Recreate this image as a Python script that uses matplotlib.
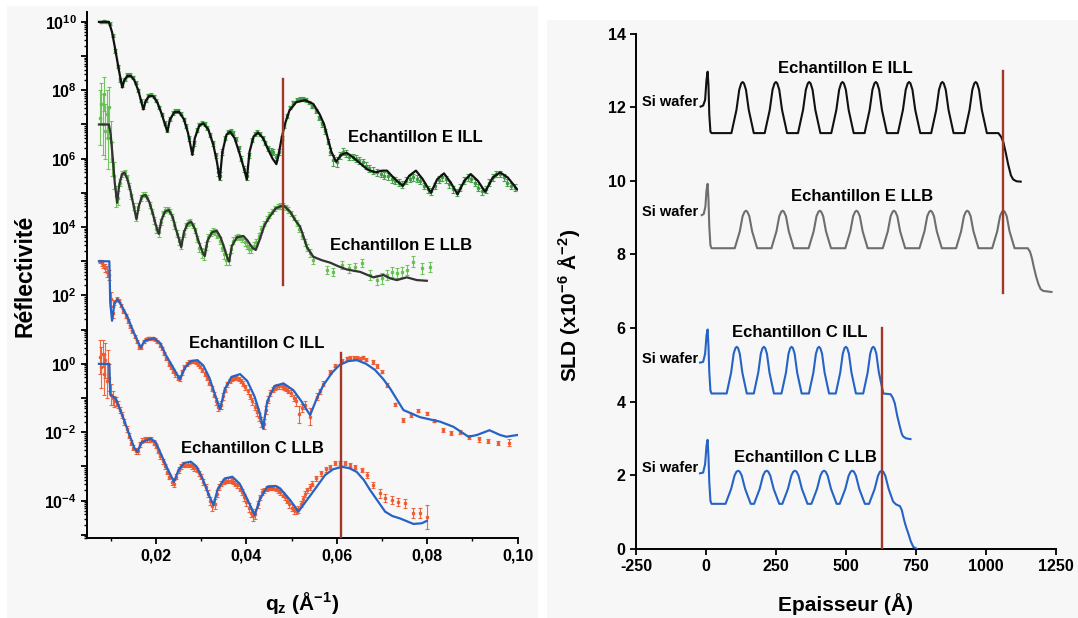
import numpy as np
import matplotlib
matplotlib.use('Agg')
import matplotlib.pyplot as plt
from matplotlib.patches import Rectangle
from matplotlib.ticker import FixedLocator, FuncFormatter, LogLocator, MultipleLocator, NullFormatter

plt.rcParams['font.family'] = ['Liberation Sans', 'DejaVu Sans']
plt.rcParams['font.weight'] = 'bold'
plt.rcParams['mathtext.fontset'] = 'custom'
plt.rcParams['mathtext.rm'] = 'Liberation Sans:bold'
plt.rcParams['mathtext.bf'] = 'Liberation Sans:bold'
plt.rcParams['mathtext.it'] = 'Liberation Sans:bold'

# ---------------- Reflectivity (left panel): (q [1/A], log10 R) ----------------
e_ill_fit = [(0.0074, 10.0), (0.0096, 10.0), (0.0103, 9.7), (0.0110, 9.2), (0.0118, 8.6), (0.0123, 8.25), (0.01257, 8.08),
             (0.0130, 8.3), (0.0137, 8.42), (0.01443, 8.42), (0.0152, 8.3), (0.0161, 8.0), (0.0168, 7.65), (0.01722, 7.44),
             (0.0177, 7.68), (0.0185, 7.83), (0.01937, 7.83), (0.0203, 7.65), (0.0213, 7.3), (0.0220, 7.0), (0.02253, 6.79),
             (0.0231, 7.15), (0.0241, 7.36), (0.02512, 7.37), (0.0262, 7.15), (0.0271, 6.75), (0.0277, 6.35), (0.02806, 6.11),
             (0.0286, 6.6), (0.0296, 6.97), (0.03049, 7.03), (0.0316, 6.85), (0.0327, 6.4), (0.0335, 5.9), (0.03412, 5.39),
             (0.0347, 6.2), (0.0356, 6.7), (0.0364, 6.79), (0.0374, 6.6), (0.0385, 6.15), (0.0395, 5.7), (0.04009, 5.39),
             (0.0407, 6.2), (0.0416, 6.65), (0.04259, 6.76), (0.0437, 6.6), (0.0447, 6.3), (0.0458, 6.0), (0.04664, 5.84),
             (0.0471, 6.1), (0.0478, 6.6), (0.0485, 7.0), (0.0495, 7.4), (0.0510, 7.65), (0.0530, 7.71), (0.0548, 7.6),
             (0.0562, 7.3), (0.0572, 7.0), (0.0580, 6.6), (0.0588, 6.2), (0.05985, 5.91), (0.0610, 6.12), (0.0622, 6.17),
             (0.0635, 6.05), (0.0652, 5.86), (0.0668, 5.68), (0.0685, 5.6), (0.0700, 5.65), (0.0711, 5.65), (0.0725, 5.45),
             (0.0746, 5.2), (0.0760, 5.5), (0.0775, 5.65), (0.0790, 5.4), (0.0808, 5.0), (0.0822, 5.4), (0.0837, 5.57),
             (0.0852, 5.3), (0.0867, 4.96), (0.0882, 5.35), (0.0896, 5.55), (0.0912, 5.35), (0.0928, 5.03), (0.0945, 5.45),
             (0.0961, 5.6), (0.0978, 5.45), (0.0999, 5.1)]

e_llb_fit = [(0.0074, 7.0), (0.0096, 7.0), (0.0100, 6.7), (0.0104, 6.1), (0.0109, 5.3), (0.01141, 4.71),
             (0.0119, 5.25), (0.0125, 5.55), (0.01305, 5.59), (0.0137, 5.4), (0.0144, 5.05), (0.0151, 4.6), (0.0157, 4.23),
             (0.0162, 4.6), (0.0169, 4.9), (0.0177, 4.94), (0.0185, 4.75), (0.0193, 4.4), (0.0200, 4.05), (0.02064, 3.80),
             (0.0212, 4.2), (0.0220, 4.45), (0.02285, 4.50), (0.0237, 4.3), (0.0244, 3.95), (0.0251, 3.65), (0.02559, 3.41),
             (0.0262, 3.85), (0.0270, 4.1), (0.02779, 4.16), (0.0286, 3.95), (0.0294, 3.6), (0.0302, 3.3), (0.0308, 3.15),
             (0.0314, 3.6), (0.0324, 3.85), (0.03346, 3.89), (0.0343, 3.7), (0.0351, 3.4), (0.0358, 3.1), (0.03618, 2.99),
             (0.0368, 3.45), (0.0379, 3.7), (0.03934, 3.74), (0.0403, 3.6), (0.0413, 3.4), (0.04208, 3.33),
             (0.0430, 3.65), (0.0440, 4.05), (0.04503, 4.28), (0.0465, 4.55), (0.04819, 4.64), (0.04967, 4.45),
             (0.0508, 4.2), (0.05188, 4.01), (0.0527, 3.7), (0.05336, 3.42), (0.05482, 3.13), (0.0567, 3.03),
             (0.05852, 2.96), (0.0604, 2.85), (0.06221, 2.76), (0.06515, 2.69), (0.0668, 2.6), (0.0681, 2.53),
             (0.07031, 2.6), (0.0718, 2.5), (0.07327, 2.45), (0.07548, 2.53), (0.0777, 2.45), (0.0799, 2.43)]

c_ill_fit = [(0.0074, 3.0), (0.0097, 3.0), (0.0099, 1.8), (0.0103, 1.26), (0.0108, 1.75), (0.01148, 1.89), (0.0122, 1.75),
             (0.01369, 1.38), (0.0150, 0.95), (0.0160, 0.65), (0.01666, 0.48), (0.0175, 0.68), (0.0196, 0.75), (0.0210, 0.6),
             (0.02218, 0.26), (0.0240, -0.15), (0.02527, -0.45), (0.0265, -0.1), (0.0278, 0.08), (0.02917, 0.11),
             (0.0305, -0.05), (0.0318, -0.4), (0.0332, -0.95), (0.03419, -1.33), (0.0352, -0.75), (0.0367, -0.38),
             (0.03861, -0.30), (0.0402, -0.5), (0.0418, -0.95), (0.0430, -1.45), (0.0437, -1.89), (0.0446, -1.1),
             (0.0462, -0.65), (0.04819, -0.57), (0.0504, -0.77), (0.0522, -1.1), (0.0541, -1.5), (0.0556, -1.0),
             (0.05704, -0.62), (0.0590, -0.25), (0.06058, -0.035), (0.0625, 0.08), (0.06442, 0.11), (0.0665, 0.0),
             (0.06847, -0.18), (0.0703, -0.45), (0.07179, -0.72), (0.07473, -1.35), (0.07843, -1.56), (0.08285, -1.69),
             (0.08579, -1.84), (0.08911, -2.13), (0.09097, -2.08), (0.09376, -1.94), (0.09612, -2.08), (0.0975, -2.13),
             (0.0999, -2.08)]

c_llb_fit = [(0.0074, 0.0), (0.0097, 0.0), (0.0099, -0.9), (0.0111, -1.01), (0.0118, -1.25), (0.01295, -1.64),
             (0.0142, -2.1), (0.0152, -2.45), (0.0159, -2.57), (0.0168, -2.3), (0.01885, -2.18), (0.0200, -2.3),
             (0.02106, -2.62), (0.0225, -3.05), (0.02401, -3.45), (0.0250, -3.1), (0.0262, -2.9), (0.02771, -2.86),
             (0.0290, -3.0), (0.0303, -3.35), (0.0316, -3.8), (0.0327, -4.13), (0.0337, -3.65), (0.0352, -3.35),
             (0.0369, -3.30), (0.0385, -3.5), (0.0400, -3.9), (0.04186, -4.42), (0.0430, -3.95), (0.0446, -3.6),
             (0.04651, -3.57), (0.04746, -3.64), (0.04967, -3.98), (0.05151, -4.32), (0.0530, -4.05), (0.05447, -3.79),
             (0.05741, -3.25), (0.0592, -3.08), (0.06111, -3.01), (0.0628, -3.05), (0.06442, -3.16), (0.0660, -3.4),
             (0.06737, -3.69), (0.0690, -4.0), (0.07068, -4.32), (0.0723, -4.45), (0.0740, -4.52), (0.07694, -4.68),
             (0.0788, -4.66), (0.0799, -4.59)]

# measured points: (q, log10 R, error bar half-length in decades)
e_ill_data = [(0.0078, 10.0, 0.04), (0.0085, 10.02, 0.04), (0.0092, 10.0, 0.04), (0.0098, 9.95, 0.04), (0.0104, 9.6, 0.05),
              (0.0110, 9.15, 0.05), (0.0116, 8.7, 0.05), (0.0121, 8.3, 0.05), (0.0126, 8.15, 0.06), (0.0131, 8.32, 0.05),
              (0.0137, 8.45, 0.05), (0.0143, 8.45, 0.05), (0.0149, 8.38, 0.05), (0.0155, 8.22, 0.05), (0.0161, 8.0, 0.05),
              (0.0167, 7.7, 0.05), (0.0172, 7.5, 0.06), (0.0177, 7.7, 0.05), (0.0183, 7.85, 0.05), (0.0189, 7.87, 0.05),
              (0.0195, 7.82, 0.05), (0.0201, 7.7, 0.05), (0.0207, 7.5, 0.05), (0.0213, 7.3, 0.05), (0.0219, 7.05, 0.06),
              (0.0225, 6.85, 0.07), (0.0231, 7.15, 0.06), (0.0237, 7.33, 0.05), (0.0243, 7.4, 0.05), (0.0249, 7.4, 0.05),
              (0.0255, 7.32, 0.05), (0.0261, 7.15, 0.05), (0.0267, 6.95, 0.06), (0.0273, 6.6, 0.07), (0.0279, 6.25, 0.1),
              (0.0284, 6.45, 0.08), (0.0290, 6.85, 0.06), (0.0296, 7.0, 0.05), (0.0302, 7.05, 0.05), (0.0308, 7.02, 0.05),
              (0.0314, 6.9, 0.05), (0.0320, 6.7, 0.06), (0.0326, 6.45, 0.07), (0.0332, 6.1, 0.08), (0.0337, 5.6, 0.12),
              (0.0342, 5.5, 0.12), (0.0347, 6.2, 0.08), (0.0353, 6.6, 0.06), (0.0359, 6.78, 0.05), (0.0365, 6.82, 0.05),
              (0.0371, 6.75, 0.05), (0.0377, 6.58, 0.06), (0.0383, 6.3, 0.07), (0.0389, 6.0, 0.08), (0.0395, 5.7, 0.1),
              (0.0401, 5.5, 0.12), (0.0406, 6.1, 0.08), (0.0412, 6.55, 0.06), (0.0418, 6.72, 0.05), (0.0424, 6.78, 0.05),
              (0.0430, 6.72, 0.05), (0.0436, 6.6, 0.06), (0.0442, 6.45, 0.06), (0.0448, 6.3, 0.07), (0.0454, 6.22, 0.08),
              (0.0460, 6.2, 0.08), (0.0466, 6.05, 0.1), (0.0472, 6.2, 0.08), (0.0478, 6.6, 0.06), (0.0484, 6.95, 0.05),
              (0.0490, 7.25, 0.05), (0.0497, 7.5, 0.05), (0.0504, 7.65, 0.05), (0.0511, 7.73, 0.05), (0.0518, 7.75, 0.05),
              (0.0525, 7.75, 0.05), (0.0532, 7.72, 0.05), (0.0539, 7.65, 0.05), (0.0546, 7.52, 0.05), (0.0553, 7.4, 0.05),
              (0.0560, 7.2, 0.06), (0.0567, 7.0, 0.06), (0.0574, 6.8, 0.07), (0.0580, 6.5, 0.08), (0.0586, 6.2, 0.1),
              (0.0592, 5.95, 0.15), (0.0600, 5.9, 0.15), (0.0607, 6.1, 0.1), (0.0614, 6.2, 0.1), (0.0621, 6.15, 0.1),
              (0.0628, 6.05, 0.1), (0.0635, 6.05, 0.1), (0.0642, 6.0, 0.1), (0.0650, 5.95, 0.1), (0.0657, 5.9, 0.1),
              (0.0664, 5.8, 0.1), (0.0672, 5.72, 0.1), (0.0680, 5.65, 0.1), (0.0688, 5.6, 0.1), (0.0697, 5.55, 0.1),
              (0.0705, 5.5, 0.1), (0.0713, 5.48, 0.1), (0.0721, 5.4, 0.1), (0.0729, 5.35, 0.1), (0.0737, 5.3, 0.1),
              (0.0745, 5.25, 0.1), (0.0753, 5.35, 0.1), (0.0761, 5.42, 0.1), (0.0769, 5.45, 0.1), (0.0777, 5.42, 0.1),
              (0.0785, 5.35, 0.1), (0.0793, 5.2, 0.1), (0.0801, 5.1, 0.1), (0.0809, 5.05, 0.1), (0.0817, 5.2, 0.1),
              (0.0825, 5.38, 0.1), (0.0833, 5.45, 0.1), (0.0841, 5.4, 0.1), (0.0849, 5.25, 0.1), (0.0857, 5.1, 0.1),
              (0.0865, 5.0, 0.1), (0.0873, 5.15, 0.1), (0.0881, 5.35, 0.1), (0.0889, 5.45, 0.1), (0.0897, 5.42, 0.1),
              (0.0905, 5.3, 0.1), (0.0913, 5.15, 0.1), (0.0921, 5.05, 0.1), (0.0929, 5.1, 0.1), (0.0937, 5.3, 0.1),
              (0.0945, 5.45, 0.1), (0.0953, 5.55, 0.1), (0.0961, 5.55, 0.1), (0.0969, 5.45, 0.1), (0.0977, 5.3, 0.1),
              (0.0985, 5.2, 0.1), (0.0993, 5.15, 0.1)]

e_llb_data = [(0.0076, 7.2, 0.8), (0.0079, 7.6, 0.6), (0.0082, 7.0, 0.9), (0.0085, 7.9, 0.5), (0.0088, 6.8, 0.8),
              (0.0091, 7.3, 0.7), (0.0094, 6.6, 0.9), (0.0097, 7.5, 0.6), (0.0100, 6.5, 0.6), (0.0103, 6.0, 0.5),
              (0.0107, 5.5, 0.4), (0.0111, 4.9, 0.3), (0.0116, 4.85, 0.2), (0.0121, 5.3, 0.1), (0.0126, 5.55, 0.08),
              (0.0131, 5.6, 0.08), (0.0136, 5.45, 0.08), (0.0141, 5.2, 0.08), (0.0146, 4.9, 0.08), (0.0151, 4.6, 0.1),
              (0.0156, 4.3, 0.12), (0.0161, 4.6, 0.1), (0.0166, 4.85, 0.08), (0.0171, 4.95, 0.08), (0.0176, 4.95, 0.08),
              (0.0181, 4.85, 0.08), (0.0186, 4.65, 0.08), (0.0191, 4.45, 0.08), (0.0196, 4.2, 0.1), (0.0201, 3.95, 0.12),
              (0.0206, 3.85, 0.15), (0.0211, 4.15, 0.1), (0.0216, 4.4, 0.08), (0.0221, 4.5, 0.08), (0.0226, 4.52, 0.08),
              (0.0231, 4.45, 0.08), (0.0236, 4.3, 0.08), (0.0241, 4.05, 0.1), (0.0246, 3.8, 0.1), (0.0251, 3.6, 0.12),
              (0.0256, 3.5, 0.15), (0.0261, 3.8, 0.1), (0.0266, 4.05, 0.08), (0.0271, 4.12, 0.08), (0.0276, 4.15, 0.08),
              (0.0281, 4.05, 0.08), (0.0286, 3.9, 0.08), (0.0291, 3.65, 0.1), (0.0296, 3.4, 0.12), (0.0301, 3.25, 0.15),
              (0.0306, 3.2, 0.15), (0.0311, 3.45, 0.12), (0.0316, 3.7, 0.1), (0.0321, 3.82, 0.08), (0.0326, 3.88, 0.08),
              (0.0331, 3.85, 0.08), (0.0336, 3.75, 0.08), (0.0341, 3.6, 0.1), (0.0346, 3.4, 0.1), (0.0351, 3.2, 0.12),
              (0.0356, 3.05, 0.15), (0.0361, 3.05, 0.15), (0.0366, 3.35, 0.12), (0.0371, 3.6, 0.1), (0.0376, 3.7, 0.08),
              (0.0381, 3.72, 0.08), (0.0386, 3.7, 0.08), (0.0391, 3.65, 0.08), (0.0396, 3.55, 0.1), (0.0401, 3.45, 0.1),
              (0.0406, 3.35, 0.12), (0.0411, 3.35, 0.12), (0.0416, 3.45, 0.1), (0.0421, 3.55, 0.1), (0.0427, 3.75, 0.08),
              (0.0433, 3.95, 0.08), (0.0439, 4.1, 0.08), (0.0445, 4.25, 0.08), (0.0451, 4.35, 0.08), (0.0457, 4.45, 0.08),
              (0.0463, 4.55, 0.08), (0.0469, 4.6, 0.08), (0.0475, 4.62, 0.08), (0.0481, 4.62, 0.08), (0.0487, 4.58, 0.08),
              (0.0493, 4.5, 0.08), (0.0499, 4.4, 0.08), (0.0505, 4.28, 0.08), (0.0511, 4.12, 0.08), (0.0517, 3.95, 0.1),
              (0.0523, 3.75, 0.1), (0.0529, 3.55, 0.1), (0.0535, 3.4, 0.1), (0.0541, 3.25, 0.12), (0.0548, 3.04, 0.12),
              (0.0578, 2.74, 0.12), (0.0592, 2.69, 0.12), (0.0611, 2.89, 0.12), (0.0626, 2.79, 0.12), (0.0640, 2.84, 0.12),
              (0.0655, 2.94, 0.12), (0.0674, 2.60, 0.15), (0.0688, 2.45, 0.15), (0.0700, 2.50, 0.15), (0.0711, 2.60, 0.15),
              (0.0722, 2.69, 0.15), (0.0733, 2.65, 0.15), (0.0744, 2.69, 0.15), (0.0755, 2.74, 0.15), (0.0769, 2.99, 0.15),
              (0.0788, 2.79, 0.15), (0.0806, 2.84, 0.15)]

c_ill_data = [(0.0076, 3.0, 0.05), (0.0080, 2.95, 0.08), (0.0084, 2.9, 0.1), (0.0088, 2.8, 0.12), (0.0092, 2.7, 0.15),
              (0.0096, 2.6, 0.15), (0.0100, 1.9, 0.2), (0.0104, 1.5, 0.15), (0.0108, 1.8, 0.08), (0.0113, 1.9, 0.05),
              (0.0118, 1.85, 0.05), (0.0123, 1.7, 0.05), (0.0128, 1.55, 0.05), (0.0133, 1.4, 0.05), (0.0138, 1.25, 0.05),
              (0.0143, 1.1, 0.05), (0.0148, 0.95, 0.05), (0.0153, 0.8, 0.05), (0.0158, 0.65, 0.05), (0.0163, 0.5, 0.06),
              (0.0168, 0.5, 0.06), (0.0173, 0.65, 0.05), (0.0178, 0.72, 0.05), (0.0183, 0.75, 0.05), (0.0188, 0.75, 0.05),
              (0.0193, 0.75, 0.05), (0.0198, 0.72, 0.05), (0.0203, 0.65, 0.05), (0.0208, 0.55, 0.05), (0.0213, 0.45, 0.05),
              (0.0218, 0.3, 0.05), (0.0223, 0.15, 0.05), (0.0228, 0.0, 0.06), (0.0233, -0.1, 0.06), (0.0238, -0.2, 0.06),
              (0.0243, -0.3, 0.07), (0.0248, -0.4, 0.08), (0.0253, -0.42, 0.08), (0.0258, -0.25, 0.07), (0.0263, -0.1, 0.06),
              (0.0268, 0.0, 0.05), (0.0273, 0.05, 0.05), (0.0278, 0.07, 0.05), (0.0283, 0.07, 0.05), (0.0288, 0.05, 0.05),
              (0.0293, 0.0, 0.05), (0.0298, -0.08, 0.05), (0.0303, -0.18, 0.06), (0.0308, -0.3, 0.06), (0.0313, -0.42, 0.06),
              (0.0318, -0.55, 0.07), (0.0323, -0.72, 0.08), (0.0328, -0.9, 0.08), (0.0333, -1.1, 0.1), (0.0338, -1.25, 0.12),
              (0.0343, -1.2, 0.12), (0.0348, -0.95, 0.1), (0.0353, -0.75, 0.08), (0.0358, -0.6, 0.07), (0.0363, -0.5, 0.06),
              (0.0368, -0.45, 0.06), (0.0373, -0.42, 0.06), (0.0378, -0.42, 0.06), (0.0383, -0.45, 0.06), (0.0388, -0.5, 0.06),
              (0.0393, -0.58, 0.07), (0.0398, -0.68, 0.07), (0.0403, -0.8, 0.08), (0.0408, -0.95, 0.08), (0.0413, -1.1, 0.1),
              (0.0418, -1.25, 0.1), (0.0423, -1.4, 0.12), (0.0428, -1.55, 0.12), (0.0433, -1.7, 0.15), (0.0438, -1.75, 0.15),
              (0.0443, -1.35, 0.12), (0.0448, -1.05, 0.1), (0.0453, -0.85, 0.08), (0.0458, -0.75, 0.07), (0.0463, -0.7, 0.07),
              (0.0468, -0.65, 0.07), (0.0473, -0.65, 0.07), (0.0478, -0.65, 0.07), (0.0483, -0.68, 0.07), (0.0488, -0.72, 0.07),
              (0.0493, -0.78, 0.07), (0.0498, -0.85, 0.08), (0.0505, -1.0, 0.1), (0.0510, -1.1, 0.12), (0.0516, -1.47, 0.25),
              (0.0523, -1.3, 0.12), (0.0530, -1.2, 0.12), (0.0541, -1.55, 0.25), (0.0556, -0.96, 0.1), (0.0562, -0.8, 0.08),
              (0.0570, -0.58, 0.07), (0.0585, -0.23, 0.06), (0.0595, -0.05, 0.05), (0.0611, 0.09, 0.05), (0.0622, 0.16, 0.05),
              (0.0630, 0.17, 0.05), (0.0637, 0.17, 0.05), (0.0644, 0.17, 0.05), (0.0652, 0.15, 0.05), (0.0659, 0.19, 0.05),
              (0.0665, 0.12, 0.05), (0.0680, 0.06, 0.05), (0.0688, -0.06, 0.05), (0.0700, -0.23, 0.05), (0.0711, -0.62, 0.05),
              (0.0729, -1.18, 0.05), (0.0746, -1.64, 0.05), (0.0764, -1.50, 0.05), (0.0780, -1.37, 0.05), (0.0799, -1.45, 0.05),
              (0.0815, -1.66, 0.05), (0.0834, -1.94, 0.06), (0.0852, -2.01, 0.06), (0.0873, -1.99, 0.06), (0.0893, -2.15, 0.06),
              (0.0915, -2.21, 0.06), (0.0935, -2.25, 0.06), (0.0957, -2.31, 0.06), (0.0980, -2.30, 0.1)]

c_llb_data = [(0.0076, 0.2, 0.5), (0.0079, -0.1, 0.6), (0.0082, 0.3, 0.4), (0.0085, -0.3, 0.6), (0.0088, 0.1, 0.5),
              (0.0091, -0.5, 0.5), (0.0094, 0.0, 0.4), (0.0097, -0.4, 0.4), (0.0100, -0.9, 0.3), (0.0104, -1.0, 0.2),
              (0.0108, -1.1, 0.15), (0.0112, -1.1, 0.12), (0.0116, -1.2, 0.1), (0.0120, -1.35, 0.1), (0.0125, -1.5, 0.08),
              (0.0130, -1.7, 0.08), (0.0135, -1.9, 0.08), (0.0140, -2.1, 0.08), (0.0145, -2.3, 0.08), (0.0150, -2.45, 0.08),
              (0.0155, -2.55, 0.08), (0.0160, -2.55, 0.08), (0.0165, -2.35, 0.08), (0.0170, -2.25, 0.07), (0.0175, -2.2, 0.07),
              (0.0180, -2.2, 0.07), (0.0185, -2.2, 0.07), (0.0190, -2.22, 0.07), (0.0195, -2.3, 0.07), (0.0200, -2.4, 0.07),
              (0.0205, -2.55, 0.07), (0.0210, -2.7, 0.07), (0.0215, -2.85, 0.08), (0.0220, -3.0, 0.08), (0.0225, -3.15, 0.08),
              (0.0230, -3.3, 0.08), (0.0235, -3.45, 0.1), (0.0240, -3.5, 0.1), (0.0245, -3.3, 0.08), (0.0250, -3.1, 0.08),
              (0.0255, -3.0, 0.07), (0.0260, -2.95, 0.07), (0.0265, -2.95, 0.07), (0.0270, -2.95, 0.07), (0.0275, -2.95, 0.07),
              (0.0280, -3.0, 0.07), (0.0285, -3.05, 0.07), (0.0290, -3.1, 0.07), (0.0295, -3.2, 0.07), (0.0300, -3.3, 0.08),
              (0.0305, -3.45, 0.08), (0.0310, -3.6, 0.1), (0.0315, -3.8, 0.1), (0.0320, -4.0, 0.12), (0.0325, -4.15, 0.15),
              (0.0330, -4.1, 0.15), (0.0335, -3.8, 0.1), (0.0340, -3.6, 0.08), (0.0345, -3.5, 0.08), (0.0350, -3.45, 0.07),
              (0.0355, -3.42, 0.07), (0.0360, -3.42, 0.07), (0.0365, -3.42, 0.07), (0.0370, -3.45, 0.07), (0.0375, -3.5, 0.07),
              (0.0380, -3.55, 0.08), (0.0385, -3.65, 0.08), (0.0390, -3.75, 0.08), (0.0395, -3.9, 0.1), (0.0400, -4.05, 0.1),
              (0.0405, -4.2, 0.12), (0.0410, -4.35, 0.12), (0.0415, -4.45, 0.15), (0.0420, -4.4, 0.15), (0.0425, -4.1, 0.1),
              (0.0430, -3.9, 0.08), (0.0435, -3.75, 0.08), (0.0440, -3.7, 0.07), (0.0445, -3.65, 0.07), (0.0450, -3.62, 0.07),
              (0.0455, -3.62, 0.07), (0.0460, -3.62, 0.07), (0.0465, -3.65, 0.07), (0.0470, -3.7, 0.07), (0.0475, -3.75, 0.07),
              (0.0480, -3.82, 0.08), (0.0485, -3.9, 0.08), (0.0490, -4.0, 0.08), (0.0495, -4.1, 0.1), (0.0500, -4.2, 0.1),
              (0.0505, -4.28, 0.1), (0.0510, -4.3, 0.1), (0.0515, -4.25, 0.1), (0.0520, -4.1, 0.08), (0.0525, -3.95, 0.08),
              (0.0530, -3.8, 0.08), (0.0535, -3.7, 0.08), (0.0540, -3.6, 0.08), (0.0545, -3.5, 0.07), (0.0555, -3.35, 0.07),
              (0.0565, -3.2, 0.07), (0.0575, -3.08, 0.07), (0.0585, -3.01, 0.06), (0.0596, -2.91, 0.06), (0.0607, -2.89, 0.06),
              (0.0618, -2.91, 0.06), (0.0629, -2.96, 0.06), (0.0640, -3.01, 0.06), (0.0655, -3.11, 0.06), (0.0666, -3.25, 0.08),
              (0.0681, -3.54, 0.1), (0.0696, -3.79, 0.12), (0.0707, -3.93, 0.12), (0.0722, -3.98, 0.12), (0.0736, -4.03, 0.12),
              (0.0751, -4.08, 0.12), (0.0768, -4.35, 0.15), (0.0784, -4.35, 0.15), (0.0799, -4.47, 0.35)]

refl_labels = [("Echantillon E ILL", 0.0625, 6.63), ("Echantillon E LLB", 0.0586, 3.47),
               ("Echantillon C ILL", 0.0273, 0.60), ("Echantillon C LLB", 0.0255, -2.48)]
refl_markers = [(0.0481, 2.31, 8.32), (0.0609, -5.10, 0.32)]   # (q, log10 R from, log10 R to)

# ---------------- SLD profiles (right panel): (thickness [A], SLD [1e-6 A^-2]) ----------------
sld_e_ill = [(-19, 12.02), (-10, 12.05), (-3, 12.2), (2, 12.75), (6, 12.97), (9, 12.6), (12, 11.8), (16, 11.34), (20, 11.30),
             (91, 11.30), (109, 11.93), (119, 12.48), (126, 12.65), (131, 12.69), (136, 12.65), (143, 12.48), (153, 11.93), (171, 11.30),
             (210, 11.30), (228, 11.93), (238, 12.48), (245, 12.65), (250, 12.69), (255, 12.65), (262, 12.48), (272, 11.93), (290, 11.30),
             (329, 11.30), (347, 11.93), (357, 12.48), (364, 12.65), (369, 12.69), (374, 12.65), (381, 12.48), (391, 11.93), (409, 11.30),
             (448, 11.30), (466, 11.93), (476, 12.48), (483, 12.65), (488, 12.69), (493, 12.65), (500, 12.48), (510, 11.93), (528, 11.30),
             (567, 11.30), (585, 11.93), (595, 12.48), (602, 12.65), (607, 12.69), (612, 12.65), (619, 12.48), (629, 11.93), (647, 11.30),
             (686, 11.30), (704, 11.93), (714, 12.48), (721, 12.65), (726, 12.69), (731, 12.65), (738, 12.48), (748, 11.93), (766, 11.30),
             (805, 11.30), (823, 11.93), (833, 12.48), (840, 12.65), (845, 12.69), (850, 12.65), (857, 12.48), (867, 11.93), (885, 11.30),
             (924, 11.30), (942, 11.93), (952, 12.48), (959, 12.65), (964, 12.69), (969, 12.65), (976, 12.48), (986, 11.93), (1004, 11.30),
             (1045, 11.30), (1055, 11.2), (1063, 11.05), (1072, 10.75), (1080, 10.45), (1090, 10.15), (1098, 10.04), (1110, 9.99), (1125, 9.98)]

sld_e_llb = [(-15, 9.07), (-8, 9.10), (-2, 9.3), (2, 9.75), (6, 9.92), (9, 9.5), (12, 8.75), (16, 8.25), (20, 8.17),
             (103, 8.17), (121, 8.63), (131, 9.04), (138, 9.16), (143, 9.19), (148, 9.16), (155, 9.04), (165, 8.63), (183, 8.17),
             (234, 8.17), (252, 8.63), (262, 9.04), (269, 9.16), (274, 9.19), (279, 9.16), (286, 9.04), (296, 8.63), (314, 8.17),
             (367, 8.17), (385, 8.63), (395, 9.04), (402, 9.16), (407, 9.19), (412, 9.16), (419, 9.04), (429, 8.63), (447, 8.17),
             (498, 8.17), (516, 8.63), (526, 9.04), (533, 9.16), (538, 9.19), (543, 9.16), (550, 9.04), (560, 8.63), (578, 8.17),
             (632, 8.17), (650, 8.63), (660, 9.04), (667, 9.16), (672, 9.19), (677, 9.16), (684, 9.04), (694, 8.63), (712, 8.17),
             (763, 8.17), (781, 8.63), (791, 9.04), (798, 9.16), (803, 9.19), (808, 9.16), (815, 9.04), (825, 8.63), (843, 8.17),
             (894, 8.17), (912, 8.63), (922, 9.04), (929, 9.16), (934, 9.19), (939, 9.16), (946, 9.04), (956, 8.63), (974, 8.17),
             (1023, 8.17), (1041, 8.63), (1051, 9.04), (1058, 9.16), (1063, 9.19), (1068, 9.16), (1075, 9.04), (1085, 8.63), (1103, 8.17),
             (1150, 8.17), (1158, 8.08), (1165, 7.9), (1172, 7.65), (1180, 7.4), (1188, 7.2), (1196, 7.06), (1205, 7.01), (1235, 6.98)]

sld_c_ill = [(-21, 5.06), (-10, 5.08), (-3, 5.3), (2, 5.8), (6, 5.96), (9, 5.5), (12, 4.8), (16, 4.3), (20, 4.22),
             (74, 4.22), (90, 4.79), (99, 5.30), (105, 5.45), (110, 5.49), (115, 5.45), (121, 5.30), (130, 4.79), (146, 4.22),
             (171, 4.22), (187, 4.79), (196, 5.30), (202, 5.45), (207, 5.49), (212, 5.45), (218, 5.30), (227, 4.79), (243, 4.22),
             (270, 4.22), (286, 4.79), (295, 5.30), (301, 5.45), (306, 5.49), (311, 5.45), (317, 5.30), (326, 4.79), (342, 4.22),
             (368, 4.22), (384, 4.79), (393, 5.30), (399, 5.45), (404, 5.49), (409, 5.45), (415, 5.30), (424, 4.79), (440, 4.22),
             (464, 4.22), (480, 4.79), (489, 5.30), (495, 5.45), (500, 5.49), (505, 5.45), (511, 5.30), (520, 4.79), (536, 4.22),
             (562, 4.22), (578, 4.79), (587, 5.30), (593, 5.45), (598, 5.49), (603, 5.45), (609, 5.30), (618, 4.79), (634, 4.22),
             (660, 4.20), (668, 4.10), (675, 3.95), (684, 3.6), (693, 3.32), (700, 3.12), (705, 3.05), (715, 3.0), (731, 2.98)]

sld_c_llb = [(-21, 2.05), (-10, 2.07), (-3, 2.3), (2, 2.8), (6, 2.96), (9, 2.5), (12, 1.8), (16, 1.3), (20, 1.22),
             (70, 1.22), (90, 1.625), (102, 1.985), (109, 2.093), (115, 2.12), (121, 2.093), (128, 1.985), (140, 1.625), (160, 1.22),
             (172, 1.22), (192, 1.625), (204, 1.985), (211, 2.093), (217, 2.12), (223, 2.093), (230, 1.985), (242, 1.625), (262, 1.22),
             (273, 1.22), (293, 1.625), (305, 1.985), (312, 2.093), (318, 2.12), (324, 2.093), (331, 1.985), (343, 1.625), (363, 1.22),
             (377, 1.22), (397, 1.625), (409, 1.985), (416, 2.093), (422, 2.12), (428, 2.093), (435, 1.985), (447, 1.625), (467, 1.22),
             (478, 1.22), (498, 1.625), (510, 1.985), (517, 2.093), (523, 2.12), (529, 2.093), (536, 1.985), (548, 1.625), (568, 1.22),
             (583, 1.22), (603, 1.625), (615, 1.985), (622, 2.093), (628, 2.12), (634, 2.09), (641, 1.985), (653, 1.625), (669, 1.28),
             (680, 1.20), (693, 1.16), (700, 1.05), (706, 0.85), (711, 0.70), (717, 0.55), (723, 0.42), (732, 0.2), (741, 0.05), (753, 0.0)]

sld_labels = [("Echantillon E ILL", 497, 13.06), ("Echantillon E LLB", 558, 9.57),
              ("Echantillon C ILL", 336, 5.87), ("Echantillon C LLB", 356, 2.49)]
si_labels = [("Si wafer", -28, 12.15), ("Si wafer", -28, 9.16), ("Si wafer", -28, 5.15), ("Si wafer", -28, 2.19)]
sld_markers = [(1063, 6.96, 12.99), (628, 0.0, 5.99)]   # (thickness, SLD from, SLD to)

# ---------------- styling ----------------
W, H = 1078, 618
fig = plt.figure(figsize=(W / 100, H / 100), dpi=100)
fig.patch.set_facecolor('white')
panel_bg = '#f7f7f7'
fig.patches.append(Rectangle((7 / W, 0), (538 - 7) / W, 1 - 6 / H, transform=fig.transFigure,
                             facecolor=panel_bg, edgecolor='none', zorder=-10))
fig.patches.append(Rectangle((547 / W, 0), (W - 547) / W, 1 - 20 / H, transform=fig.transFigure,
                             facecolor=panel_bg, edgecolor='none', zorder=-10))

RED = '#a2372a'
BLUE = '#2563c4'
TICKFS = 11.5


def style_axes(ax):
    ax.set_facecolor('none')
    for s in ('top', 'right'):
        ax.spines[s].set_visible(False)
    for s in ('left', 'bottom'):
        ax.spines[s].set_linewidth(1.4)
        ax.spines[s].set_color('black')
    ax.tick_params(which='major', direction='out', length=4.5, width=1.3, labelsize=TICKFS, pad=3)
    ax.tick_params(which='minor', direction='out', length=2.5, width=1.0)
    for lab in ax.get_xticklabels() + ax.get_yticklabels():
        lab.set_fontweight('bold')


# ---- left panel ----
axL = fig.add_axes([87 / W, 1 - 538.3 / H, (517.7 - 87) / W, (538.3 - 12.3) / H])
axL.set_yscale('log')


def draw_data(ax, data, color):
    q = np.array([d[0] for d in data])
    r = 10.0 ** np.array([d[1] for d in data])
    e = np.array([d[2] for d in data])
    lo = r - r * 10.0 ** (-e)
    hi = r * 10.0 ** e - r
    ax.errorbar(q, r, yerr=[lo, hi], fmt='s', ms=1.7, color=color, mec=color, mfc=color,
                elinewidth=0.8, capsize=1.3, capthick=0.8, alpha=0.9, zorder=2)


def draw_fit(ax, fit, color, lw=1.6):
    q = [p[0] for p in fit]
    r = [10.0 ** p[1] for p in fit]
    ax.plot(q, r, color=color, lw=lw, zorder=3, solid_joinstyle='round')


draw_data(axL, e_ill_data, '#3b9a3f')
draw_data(axL, e_llb_data, '#62c04c')
draw_data(axL, c_ill_data, '#f0582c')
draw_data(axL, c_llb_data, '#f0582c')
draw_fit(axL, e_ill_fit, '#111111')
draw_fit(axL, e_llb_fit, '#333333')
draw_fit(axL, c_ill_fit, BLUE)
draw_fit(axL, c_llb_fit, BLUE)

for q, a, b in refl_markers:
    axL.plot([q, q], [10.0 ** a, 10.0 ** b], color=RED, lw=1.7, zorder=4)
for txt, q, lr in refl_labels:
    axL.text(q, 10.0 ** lr, txt, ha='left', va='center', fontsize=12, fontweight='bold', zorder=5)

axL.set_xlim(0.00476, 0.1000)
axL.set_ylim(10.0 ** -5.10, 10.0 ** 10.28)
axL.xaxis.set_major_locator(MultipleLocator(0.02))
axL.xaxis.set_minor_locator(MultipleLocator(0.01))
axL.xaxis.set_major_formatter(FuncFormatter(lambda v, p: ('%.2f' % v).replace('.', ',')))
axL.yaxis.set_major_locator(FixedLocator([10.0 ** k for k in range(-5, 11)]))
axL.yaxis.set_minor_locator(LogLocator(base=10, subs=np.arange(2, 10), numticks=40))
axL.yaxis.set_minor_formatter(NullFormatter())


def ylab(v, p):
    k = int(round(np.log10(v)))
    if k % 2 == 0 and k >= -4:
        return r'$\mathbf{10^{%d}}$' % k
    return ''


axL.yaxis.set_major_formatter(FuncFormatter(ylab))
style_axes(axL)

fig.text(302 / W, 1 - 603 / H, r'q$_{\mathbf{z}}$ (Å$^{\mathbf{-1}}$)', ha='center', va='center',
         fontsize=15, fontweight='bold')
fig.text(25 / W, 1 - 276 / H, 'Réflectivité', ha='center', va='center', rotation=90,
         fontsize=16.5, fontweight='bold')

# ---- right panel ----
axR = fig.add_axes([636 / W, 1 - 548.7 / H, (1055.7 - 636) / W, (548.7 - 33.8) / H])


def draw_profile(ax, prof, color):
    ax.plot([p[0] for p in prof], [p[1] for p in prof], color=color, lw=1.5, zorder=3,
            solid_joinstyle='round')


draw_profile(axR, sld_e_ill, '#111111')
draw_profile(axR, sld_e_llb, '#6e6e6e')
draw_profile(axR, sld_c_ill, BLUE)
draw_profile(axR, sld_c_llb, BLUE)
for t, a, b in sld_markers:
    axR.plot([t, t], [a, b], color=RED, lw=1.7, zorder=4)
for txt, t, v in sld_labels:
    axR.text(t, v, txt, ha='center', va='center', fontsize=12, fontweight='bold', zorder=5)
for txt, t, v in si_labels:
    axR.text(t, v, txt, ha='right', va='center', fontsize=10.5, fontweight='bold', zorder=5)

axR.set_xlim(-250, 1250)
axR.set_ylim(0, 14)
axR.xaxis.set_major_locator(FixedLocator([-250, 0, 250, 500, 750, 1000, 1250]))
axR.yaxis.set_major_locator(FixedLocator([0, 2, 4, 6, 8, 10, 12, 14]))
axR.xaxis.set_major_formatter(FuncFormatter(lambda v, p: '%d' % v))
axR.yaxis.set_major_formatter(FuncFormatter(lambda v, p: '%d' % v))
style_axes(axR)

fig.text(846 / W, 1 - 604 / H, 'Epaisseur (Å)', ha='center', va='center', fontsize=15, fontweight='bold')
fig.text(569 / W, 1 - 305 / H, r'SLD (x10$^{\mathbf{-6}}$ Å$^{\mathbf{-2}}$)', ha='center', va='center',
         rotation=90, fontsize=15, fontweight='bold')

fig.savefig('out.png', dpi=100, facecolor='white')
